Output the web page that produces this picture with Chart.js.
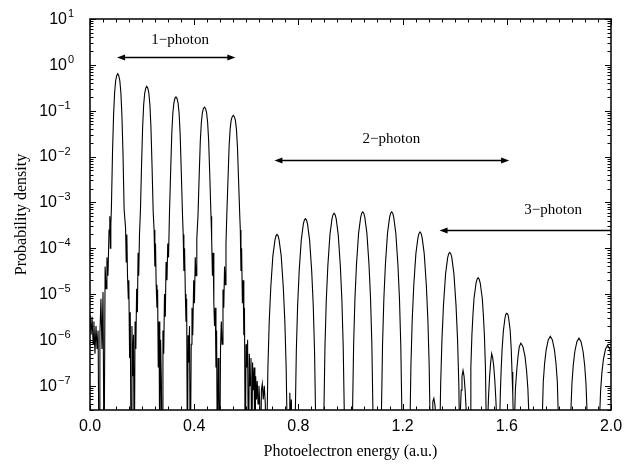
<!DOCTYPE html>
<html>
<head>
<meta charset="utf-8">
<script src="https://cdn.jsdelivr.net/npm/chart.js@4.4.0/dist/chart.umd.min.js"></script>
<style>
  html, body { margin: 0; padding: 0; background: #fff; }
  canvas { display: block; }
</style>
</head>
<body>
<canvas id="chart" width="641" height="466"></canvas>
<script>
// [energy (a.u.), probability density].
// 1e-9 means "below the bottom of the plot".
const lowEnergy = [
  [0.000, 3.5e-6], [0.004, 1.3e-6], [0.008, 3.2e-6], [0.012, 8e-7], [0.015, 2.5e-6], [0.019, 5e-7],
  [0.023, 2e-6], [0.027, 6.3e-7], [0.031, 1.6e-6], [0.035, 1e-9], [0.038, 1.3e-6], [0.042, 7.9e-6],
  [0.046, 6.3e-7], [0.050, 1.1e-5], [0.054, 1e-9], [0.058, 4e-5], [0.062, 1.3e-5], [0.065, 6.3e-5],
  [0.069, 2.5e-5], [0.073, 2.5e-4], [0.076, 5e-4], [0.078, 1e-4], [0.080, 3.2e-4],
  [0.082, 7e-4], [0.0865, 0.0127], [0.0905, 0.08], [0.0945, 0.25], [0.0985, 0.45], [0.1025, 0.58],
  [0.1065, 0.64], [0.1105, 0.58], [0.1145, 0.45], [0.1185, 0.25], [0.1225, 0.08], [0.1265, 0.0127],
  [0.131, 7e-4],
  [0.1365, 2.8e-4], [0.139, 5e-5], [0.1415, 2e-4], [0.144, 2.5e-5], [0.147, 7.9e-6], [0.149, 2e-5],
  [0.152, 4e-7], [0.1545, 4e-6], [0.158, 1e-9], [0.161, 2e-6], [0.164, 1.6e-7], [0.167, 1.3e-6],
  [0.170, 1e-9], [0.173, 2.5e-6], [0.176, 6.3e-7], [0.179, 1.3e-5], [0.182, 4e-6], [0.1845, 7.9e-5],
  [0.187, 2.5e-5], [0.190, 2e-4],
  [0.1935, 6.3e-4], [0.198, 6.8e-3], [0.202, 0.043], [0.206, 0.135], [0.210, 0.24], [0.214, 0.31],
  [0.218, 0.34], [0.222, 0.31], [0.226, 0.24], [0.230, 0.135], [0.234, 0.043], [0.238, 6.8e-3],
  [0.2425, 6.3e-4],
  [0.246, 2.5e-4], [0.249, 4e-5], [0.2515, 1.26e-4], [0.254, 1.6e-5], [0.257, 5e-6], [0.2595, 1.26e-5],
  [0.262, 2.5e-7], [0.265, 2.5e-6], [0.268, 1e-9], [0.271, 1e-6], [0.274, 1.26e-7], [0.277, 1e-9],
  [0.280, 1.6e-6], [0.283, 5e-7], [0.286, 1e-5], [0.289, 3.2e-6], [0.292, 5e-5], [0.2955, 2e-5],
  [0.2985, 1.26e-4], [0.3015, 6.3e-5],
  [0.305, 5.6e-4], [0.310, 5.6e-3], [0.314, 0.032], [0.318, 0.089], [0.322, 0.148], [0.326, 0.186],
  [0.330, 0.2], [0.334, 0.186], [0.338, 0.148], [0.342, 0.089], [0.346, 0.032], [0.350, 5.6e-3],
  [0.355, 5.6e-4],
  [0.3577, 2e-4], [0.3604, 3.2e-5], [0.363, 1e-4], [0.366, 1e-5], [0.3685, 2.5e-6], [0.371, 7.9e-6],
  [0.374, 1e-9], [0.3765, 1.26e-6], [0.379, 3.2e-7], [0.382, 2e-6], [0.385, 1e-9], [0.3885, 8e-7],
  [0.3915, 5e-6], [0.3945, 1.26e-6], [0.398, 2e-5], [0.401, 6.3e-6], [0.404, 6.3e-5], [0.407, 2.5e-5],
  [0.410, 1.6e-4],
  [0.4145, 5e-4], [0.4195, 4.5e-3], [0.4235, 0.022], [0.4275, 0.056], [0.4315, 0.091], [0.4355, 0.112],
  [0.4395, 0.12], [0.4435, 0.112], [0.4475, 0.091], [0.4515, 0.056], [0.4555, 0.022], [0.4595, 4.5e-3],
  [0.4645, 5e-4],
  [0.467, 1.6e-4], [0.470, 2.5e-5], [0.4727, 7.9e-5], [0.4754, 6.3e-6], [0.478, 2e-6], [0.481, 5e-6],
  [0.4835, 2.5e-7], [0.486, 1.6e-6], [0.489, 1e-9], [0.492, 4e-7], [0.495, 8e-8], [0.498, 1e-9],
  [0.501, 6.3e-7], [0.504, 2.5e-6], [0.507, 8e-7], [0.5105, 1.26e-5], [0.5135, 5e-6], [0.5165, 4e-5],
  [0.5195, 1.6e-5], [0.522, 1.26e-4],
  [0.525, 5e-4], [0.530, 3.5e-3], [0.534, 0.0166], [0.538, 0.04], [0.542, 0.062], [0.546, 0.074],
  [0.550, 0.079], [0.554, 0.074], [0.558, 0.062], [0.562, 0.04], [0.566, 0.0166], [0.570, 3.5e-3],
  [0.575, 5e-4],
  [0.577, 2.5e-4], [0.5795, 3.2e-5], [0.582, 1e-4], [0.585, 6.3e-6], [0.588, 2e-5], [0.5905, 1.26e-6],
  [0.593, 5e-6], [0.596, 1e-9], [0.599, 8e-7], [0.602, 2.5e-7], [0.605, 1e-6], [0.6085, 1e-9],
  [0.6115, 5e-7], [0.6145, 1e-7], [0.618, 4e-7], [0.621, 1e-9], [0.624, 3.2e-7], [0.627, 8e-8],
  [0.630, 2.5e-7], [0.633, 1e-9], [0.636, 1.6e-7], [0.639, 5e-8], [0.642, 1.26e-7], [0.645, 4e-8],
  [0.6485, 1e-7], [0.6515, 4.5e-8], [0.6545, 1e-9], [0.658, 8e-8], [0.6615, 1.1e-7], [0.665, 5e-8],
  [0.669, 1e-7], [0.673, 4e-8]
];

const midEnergy = [
  [0.676, 1e-9], [0.679, 1e-8], [0.683, 2.5e-7], [0.688, 2.5e-6], [0.694, 1.4e-5], [0.702, 6.8e-5],
  [0.710, 1.5e-4], [0.714, 1.86e-4], [0.718, 2.0e-4], [0.722, 1.86e-4], [0.726, 1.5e-4], [0.734, 6.8e-5],
  [0.742, 1.4e-5], [0.748, 2.5e-6], [0.753, 2.5e-7], [0.757, 1e-8], [0.760, 1e-9],
  [0.764, 3e-8], [0.767, 7e-8], [0.770, 2e-8], [0.773, 5e-8], [0.777, 1e-9],
  [0.785, 1e-9], [0.788, 2.2e-8], [0.792, 5.6e-7], [0.797, 5.6e-6], [0.803, 3.2e-5], [0.811, 1.5e-4],
  [0.819, 3.4e-4], [0.823, 4.1e-4], [0.827, 4.4e-4], [0.831, 4.1e-4], [0.835, 3.4e-4], [0.843, 1.5e-4],
  [0.851, 3.2e-5], [0.857, 5.6e-6], [0.862, 5.6e-7], [0.866, 2.2e-8], [0.869, 1e-9],
  [0.895, 1e-9], [0.898, 2.9e-8], [0.902, 7.2e-7], [0.907, 7.2e-6], [0.913, 4.1e-5], [0.921, 1.95e-4],
  [0.929, 4.4e-4], [0.933, 5.4e-4], [0.937, 5.8e-4], [0.941, 5.4e-4], [0.945, 4.4e-4], [0.953, 1.95e-4],
  [0.961, 4.1e-5], [0.967, 7.2e-6], [0.972, 7.2e-7], [0.976, 2.9e-8], [0.979, 1e-9],
  [1.005, 1e-9], [1.008, 3.1e-8], [1.012, 7.8e-7], [1.017, 7.8e-6], [1.023, 4.4e-5], [1.031, 2.1e-4],
  [1.039, 4.7e-4], [1.043, 5.8e-4], [1.047, 6.2e-4], [1.051, 5.8e-4], [1.055, 4.7e-4], [1.063, 2.1e-4],
  [1.071, 4.4e-5], [1.077, 7.8e-6], [1.082, 7.8e-7], [1.086, 3.1e-8], [1.089, 1e-9],
  [1.116, 1e-9], [1.119, 3.1e-8], [1.123, 7.8e-7], [1.128, 7.8e-6], [1.134, 4.4e-5], [1.142, 2.1e-4],
  [1.150, 4.7e-4], [1.154, 5.8e-4], [1.158, 6.2e-4], [1.162, 5.8e-4], [1.166, 4.7e-4], [1.174, 2.1e-4],
  [1.182, 4.4e-5], [1.188, 7.8e-6], [1.193, 7.8e-7], [1.197, 3.1e-8], [1.200, 1e-9],
  [1.225, 1e-9], [1.228, 1.1e-8], [1.232, 2.8e-7], [1.237, 2.8e-6], [1.243, 1.6e-5], [1.251, 7.6e-5],
  [1.259, 1.7e-4], [1.263, 2.1e-4], [1.267, 2.26e-4], [1.271, 2.1e-4], [1.275, 1.7e-4], [1.283, 7.6e-5],
  [1.291, 1.6e-5], [1.297, 2.8e-6], [1.302, 2.8e-7], [1.306, 1.1e-8], [1.309, 1e-9],
  [1.313, 1e-8], [1.316, 4.5e-8], [1.320, 5.3e-8], [1.325, 3.5e-8], [1.330, 1e-9]
];

const highEnergy = [
  [1.339, 1e-9], [1.342, 4e-9], [1.346, 1e-7], [1.351, 1e-6], [1.357, 5.8e-6], [1.365, 2.75e-5],
  [1.373, 6.2e-5], [1.377, 7.6e-5], [1.381, 8.1e-5], [1.385, 7.6e-5], [1.389, 6.2e-5], [1.397, 2.75e-5],
  [1.405, 5.8e-6], [1.411, 1e-6], [1.416, 1e-7], [1.419, 4e-9],
  [1.422, 3e-8], [1.425, 8e-8], [1.428, 1.6e-7], [1.432, 2.15e-7], [1.436, 1.6e-7], [1.440, 8e-8],
  [1.444, 3e-8], [1.448, 1e-9],
  [1.456, 1e-9], [1.459, 1.6e-8], [1.462, 2.5e-7], [1.466, 1.26e-6], [1.470, 3.5e-6], [1.474, 7.9e-6],
  [1.482, 1.74e-5], [1.486, 2.1e-5], [1.490, 2.26e-5], [1.494, 2.1e-5], [1.498, 1.74e-5], [1.506, 7.9e-6],
  [1.510, 3.5e-6], [1.514, 1.26e-6], [1.518, 2.5e-7], [1.521, 1.6e-8],
  [1.524, 1e-9], [1.527, 2e-8], [1.530, 6e-8], [1.534, 1.6e-7], [1.538, 3.2e-7], [1.542, 5e-7],
  [1.546, 4e-7], [1.550, 2.6e-7], [1.554, 1.3e-7], [1.558, 5e-8], [1.562, 1.5e-8], [1.565, 1e-9],
  [1.569, 1e-9], [1.572, 1e-8], [1.575, 6.3e-8], [1.578, 2e-7], [1.582, 6.3e-7], [1.587, 1.6e-6],
  [1.593, 3e-6], [1.596, 3.6e-6], [1.600, 3.8e-6], [1.604, 3.6e-6], [1.607, 3e-6], [1.613, 1.6e-6],
  [1.617, 6.3e-7], [1.620, 2e-7], [1.623, 6.3e-8], [1.626, 1e-8], [1.628, 1e-9],
  [1.630, 2.1e-8], [1.633, 8.5e-8], [1.638, 2.1e-7], [1.643, 4.3e-7], [1.648, 7.1e-7], [1.654, 8.5e-7],
  [1.662, 7.1e-7], [1.670, 4.3e-7], [1.676, 2.1e-7], [1.681, 8.5e-8], [1.685, 2.1e-8], [1.688, 1e-9],
  [1.734, 1e-9], [1.737, 3e-8], [1.740, 1.2e-7], [1.745, 3e-7], [1.751, 6e-7], [1.759, 1e-6],
  [1.767, 1.2e-6], [1.775, 1e-6], [1.783, 6e-7], [1.789, 3e-7], [1.794, 1.2e-7], [1.797, 3e-8], [1.800, 1e-9],
  [1.843, 1e-9], [1.846, 2.75e-8], [1.850, 1.1e-7], [1.855, 2.75e-7], [1.861, 5.5e-7], [1.869, 9.1e-7],
  [1.877, 1.09e-6], [1.885, 9.1e-7], [1.893, 5.5e-7], [1.899, 2.75e-7], [1.904, 1.1e-7], [1.908, 2.75e-8],
  [1.911, 1e-9],
  [1.953, 1e-9], [1.956, 1.9e-8], [1.960, 7.6e-8], [1.965, 1.9e-7], [1.971, 3.8e-7], [1.979, 6.3e-7],
  [1.987, 7.6e-7], [1.995, 6.3e-7], [2.003, 3.8e-7]
];

const xTicks = [0, 0.4, 0.8, 1.2, 1.6, 2.0];
const xTickLabels = ["0.0", "0.4", "0.8", "1.2", "1.6", "2.0"];
const yDecades = [1, 0, -1, -2, -3, -4, -5, -6, -7];

const bandNames = ["1\u2212photon", "2\u2212photon", "3\u2212photon"];
const bandFrom = [0.104, 0.708, 1.342];
const bandTo = [0.558, 1.609, 2.0];
const bandArrowLevel = [1.45, 8.3e-3, 2.5e-4];
const bandLabelX = [0.346, 1.157, 1.778];
const bandLabelLevel = [3.4, 0.0243, 6.9e-4];
const bandHeadRight = [true, true, false];

const points = [...lowEnergy, ...midEnergy, ...highEnergy].map(([x, y]) => ({ x, y }));

const arrowHead = (ctx, x, y, dir) => {
  ctx.beginPath();
  ctx.moveTo(x, y);
  ctx.lineTo(x - dir * 8, y - 3);
  ctx.lineTo(x - dir * 8, y + 3);
  ctx.closePath();
  ctx.fill();
};

const frame = {
  id: "frame",
  beforeDraw(chart) {
    const ctx = chart.ctx;
    ctx.save();
    ctx.fillStyle = "#fff";
    ctx.fillRect(0, 0, chart.width, chart.height);
    ctx.restore();
  },
  afterDraw(chart) {
    const { ctx, chartArea: a, scales: { x, y } } = chart;
    ctx.save();
    ctx.strokeStyle = "#000";
    ctx.fillStyle = "#000";

    // ticks, pointing inward on all four sides
    ctx.lineWidth = 1;
    ctx.beginPath();
    for (let i = 0; i <= 40; i++) {
      const px = Math.round(x.getPixelForValue(i * 0.05)) + 0.5;
      const len = i % 8 === 0 ? 6 : 3.5;
      ctx.moveTo(px, a.bottom); ctx.lineTo(px, a.bottom - len);
      ctx.moveTo(px, a.top); ctx.lineTo(px, a.top + len);
    }
    for (let d = -8; d <= 1; d++) {
      for (let m = 1; m <= 9; m++) {
        const v = m * Math.pow(10, d);
        if (v < y.min || v > y.max) continue;
        const py = Math.round(y.getPixelForValue(v)) + 0.5;
        const len = m === 1 ? 6 : 3.5;
        ctx.moveTo(a.left, py); ctx.lineTo(a.left + len, py);
        ctx.moveTo(a.right, py); ctx.lineTo(a.right - len, py);
      }
    }
    ctx.stroke();

    ctx.lineWidth = 1.5;
    ctx.strokeRect(a.left, a.top, a.right - a.left, a.bottom - a.top);

    // x tick labels
    ctx.font = "16px 'Liberation Sans', Arial, sans-serif";
    ctx.textAlign = "center";
    ctx.textBaseline = "middle";
    xTicks.forEach((v, i) => {
      ctx.fillText(xTickLabels[i], x.getPixelForValue(v), a.bottom + 17);
    });

    // y tick labels as 10 with a raised exponent
    yDecades.forEach(d => {
      const py = y.getPixelForValue(Math.pow(10, d));
      const baseRight = d < 0 ? 57 : 67;
      ctx.font = "16px 'Liberation Sans', Arial, sans-serif";
      ctx.textAlign = "right";
      ctx.textBaseline = "middle";
      ctx.fillText("10", baseRight, py + 0.5);
      ctx.font = "11px 'Liberation Sans', Arial, sans-serif";
      ctx.textAlign = "left";
      ctx.fillText(d < 0 ? "\u2212" + -d : String(d), baseRight + 1, py - 5);
    });

    // axis titles
    ctx.font = "16px 'Liberation Serif', 'Times New Roman', serif";
    ctx.textAlign = "center";
    ctx.textBaseline = "alphabetic";
    ctx.fillText("Photoelectron energy (a.u.)", (a.left + a.right) / 2, 456);
    ctx.save();
    ctx.translate(22, (a.top + a.bottom) / 2);
    ctx.rotate(-Math.PI / 2);
    ctx.textBaseline = "middle";
    ctx.fillText("Probability density", 0, 0);
    ctx.restore();

    // photon-order bands
    ctx.font = "15px 'Liberation Serif', 'Times New Roman', serif";
    ctx.textBaseline = "middle";
    ctx.lineWidth = 1.3;
    bandNames.forEach((name, i) => {
      const x1 = x.getPixelForValue(bandFrom[i]);
      const x2 = x.getPixelForValue(bandTo[i]);
      const py = Math.round(y.getPixelForValue(bandArrowLevel[i])) + 0.5;
      ctx.beginPath();
      ctx.moveTo(x1 + 4, py);
      ctx.lineTo(bandHeadRight[i] ? x2 - 4 : x2, py);
      ctx.stroke();
      arrowHead(ctx, x1, py, -1);
      if (bandHeadRight[i]) arrowHead(ctx, x2, py, 1);
      ctx.fillText(name, x.getPixelForValue(bandLabelX[i]), y.getPixelForValue(bandLabelLevel[i]));
    });
    ctx.restore();
  }
};

new Chart(document.getElementById("chart"), {
  type: "line",
  data: {
    datasets: [{
      data: points,
      borderColor: "#000",
      borderWidth: 1.1,
      pointRadius: 0,
      tension: 0,
      fill: false
    }]
  },
  options: {
    responsive: false,
    animation: false,
    devicePixelRatio: 1,
    parsing: false,
    layout: { padding: { left: 90, right: 30, top: 19, bottom: 56 } },
    plugins: { legend: { display: false }, tooltip: { enabled: false } },
    scales: {
      x: { type: "linear", min: 0, max: 2, display: false },
      y: { type: "logarithmic", min: 2.95e-8, max: 10, display: false }
    }
  },
  plugins: [frame]
});
</script>
</body>
</html>
